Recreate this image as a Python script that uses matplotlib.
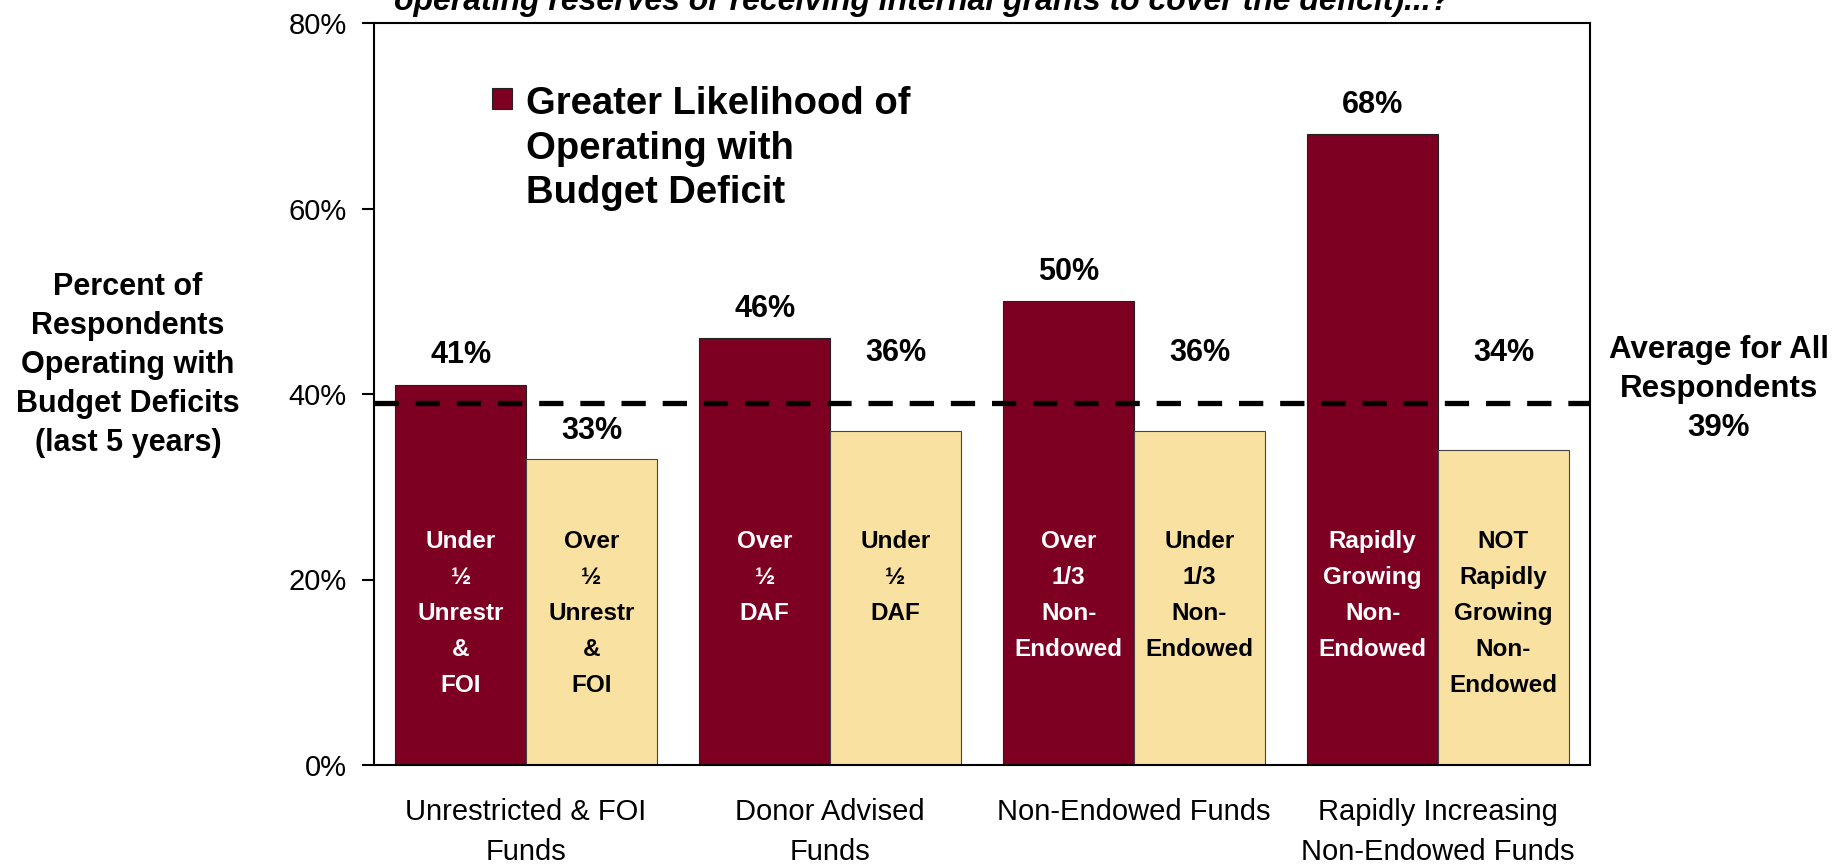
import matplotlib.pyplot as plt
from matplotlib.patches import Rectangle
import numpy as np

# chart data
categories = ['Unrestricted & FOI\nFunds', 'Donor Advised\nFunds', 'Non-Endowed Funds',
              'Rapidly Increasing\nNon-Endowed Funds']
greater = [41, 46, 50, 68]
lesser = [33, 36, 36, 34]
greater_inside = ['Under\n½\nUnrestr\n&\nFOI', 'Over\n½\nDAF', 'Over\n1/3\nNon-\nEndowed',
                  'Rapidly\nGrowing\nNon-\nEndowed']
lesser_inside = ['Over\n½\nUnrestr\n&\nFOI', 'Under\n½\nDAF', 'Under\n1/3\nNon-\nEndowed',
                 'NOT\nRapidly\nGrowing\nNon-\nEndowed']
# where the value labels of the light bars sit (moved above the average line)
lesser_label_y = [35.2, 43.6, 43.6, 43.6]
average = 39
yticks = [0, 20, 40, 60, 80]

DARK = '#7D0023'
LIGHT = '#F9E1A2'
W, H = 1837, 864

plt.rcParams['font.family'] = ['Liberation Sans', 'DejaVu Sans']

fig = plt.figure(figsize=(W / 100, H / 100), dpi=100)
ax = fig.add_axes([374 / W, 1 - 765 / H, (1590 - 374) / W, (765 - 23) / H])

x = np.arange(len(categories))
bw = 0.43
ax.bar(x - bw / 2, greater, bw, color=DARK, edgecolor='#222222', linewidth=0.8, zorder=2)
ax.bar(x + bw / 2, lesser, bw, color=LIGHT, edgecolor='#444444', linewidth=0.8, zorder=2)

ax.axhline(average, color='black', linewidth=3.8, dashes=(4.6, 3.2), zorder=3)

ax.set_xlim(-0.5, len(categories) - 0.5)
ax.set_ylim(0, 80)
ax.set_yticks(yticks)
ax.set_yticklabels([f'{t}%' for t in yticks], fontsize=21)
ax.set_xticks(x)
ax.set_xticklabels(categories, fontsize=21, linespacing=1.55)
ax.tick_params(axis='x', length=0, pad=24)
ax.tick_params(axis='y', length=8.5, width=1.5, pad=11, direction='out')
for s in ax.spines.values():
    s.set_linewidth(1.5)
    s.set_color('black')

# value labels and the text inside the bars
for i in range(len(categories)):
    ax.text(x[i] - bw / 2, greater[i] + 2.3, f'{greater[i]}%', ha='center', va='baseline',
            fontsize=22, fontweight='bold', zorder=4)
    ax.text(x[i] + bw / 2, lesser_label_y[i], f'{lesser[i]}%', ha='center', va='baseline',
            fontsize=22, fontweight='bold', zorder=4)
    ax.text(x[i] - bw / 2, 25.3, greater_inside[i], ha='center', va='top', color='white',
            fontsize=17.5, fontweight='bold', linespacing=1.72, zorder=4)
    ax.text(x[i] + bw / 2, 25.3, lesser_inside[i], ha='center', va='top', color='black',
            fontsize=17.5, fontweight='bold', linespacing=1.72, zorder=4)

# legend drawn by hand so the square lines up with the first line
fig.patches.append(Rectangle((492 / W, 1 - 109 / H), 20 / W, 21 / H, transform=fig.transFigure,
                             facecolor=DARK, edgecolor='#222222', linewidth=0.8))
fig.text(526 / W, 1 - 86 / H, 'Greater Likelihood of\nOperating with\nBudget Deficit',
         ha='left', va='top', fontsize=27.5, fontweight='bold', linespacing=1.31)

fig.text(128 / W, 1 - 365 / H, 'Percent of\nRespondents\nOperating with\nBudget Deficits\n(last 5 years)',
         ha='center', va='center', multialignment='center', fontsize=22, fontweight='bold',
         linespacing=1.39)
fig.text(1719 / W, 1 - 389 / H, 'Average for All\nRespondents\n39%', ha='center', va='center',
         multialignment='center', fontsize=22.5, fontweight='bold', linespacing=1.4)

# last line of the chart title, cut off at the top edge as in the original slide
fig.text(922 / W, 1 - 10 / H,
         'operating reserves or receiving internal grants to cover the deficit)...?',
         ha='center', va='baseline', fontsize=23, fontweight='bold', style='italic')

fig.savefig('out.png', dpi=100)
